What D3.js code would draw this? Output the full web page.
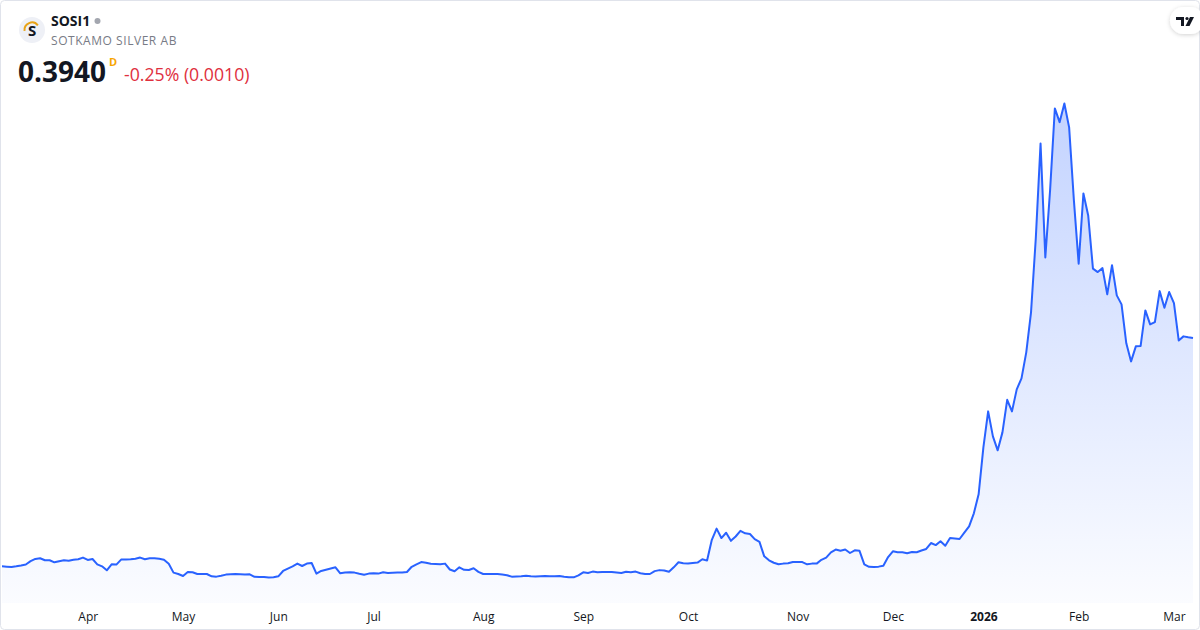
<!DOCTYPE html>
<html><head><meta charset="utf-8">
<script src="https://cdn.jsdelivr.net/npm/d3@7/dist/d3.min.js"></script>
<style>
html,body{margin:0;padding:0;background:#fff;}
svg{display:block;font-family:"Open Sans",sans-serif;}
</style></head>
<body>
<svg id="chart" width="1200" height="630"></svg>
<script>
// ---- data ----
const symbol = "SOSI1";
const companyName = "SOTKAMO SILVER AB";
const lastPrice = "0.3940";
const changeText = "-0.25% (0.0010)";
const tickLabels = ["Apr","May","Jun","Jul","Aug","Sep","Oct","Nov","Dec","2026","Feb","Mar"];
const tickIndex  = [18,38,58,78,101,122,144,167,187,206,226,246];
const prices = [
0.0994,0.0990,0.0985,0.0994,0.1005,0.1018,0.1061,0.1090,0.1098,0.1072,
0.1072,0.1046,0.1059,0.1072,0.1065,0.1078,0.1085,0.1107,0.1076,0.1089,
0.1020,0.0994,0.0943,0.1020,0.1016,0.1081,0.1081,0.1085,0.1091,0.1107,
0.1085,0.1098,0.1098,0.1091,0.1078,0.1027,0.0913,0.0895,0.0869,0.0921,
0.0917,0.0895,0.0895,0.0895,0.0865,0.0861,0.0872,0.0887,0.0891,0.0895,
0.0891,0.0887,0.0891,0.0859,0.0856,0.0855,0.0850,0.0852,0.0865,0.0934,
0.0965,0.0994,0.1029,0.0998,0.1029,0.1037,0.0900,0.0934,0.0949,0.0965,
0.0981,0.0904,0.0913,0.0916,0.0913,0.0898,0.0885,0.0900,0.0904,0.0900,
0.0917,0.0908,0.0910,0.0913,0.0914,0.0921,0.0988,0.1020,0.1049,0.1040,
0.1027,0.1023,0.1020,0.1029,0.0953,0.0930,0.0981,0.0949,0.0947,0.0969,
0.0923,0.0895,0.0895,0.0895,0.0895,0.0887,0.0878,0.0861,0.0863,0.0865,
0.0873,0.0865,0.0863,0.0865,0.0868,0.0867,0.0865,0.0869,0.0859,0.0852,
0.0852,0.0878,0.0917,0.0908,0.0926,0.0919,0.0921,0.0921,0.0921,0.0914,
0.0907,0.0923,0.0919,0.0926,0.0904,0.0895,0.0895,0.0932,0.0945,0.0940,
0.0923,0.0981,0.1046,0.1033,0.1030,0.1037,0.1042,0.1085,0.1068,0.1336,
0.1481,0.1359,0.1427,0.1323,0.1379,0.1452,0.1420,0.1411,0.1345,0.1310,
0.1123,0.1072,0.1040,0.1020,0.1029,0.1033,0.1049,0.1051,0.1049,0.1020,
0.1029,0.1029,0.1078,0.1107,0.1175,0.1211,0.1194,0.1211,0.1166,0.1201,
0.1194,0.1020,0.0988,0.0984,0.0990,0.1001,0.1114,0.1188,0.1175,0.1175,
0.1162,0.1178,0.1175,0.1198,0.1218,0.1295,0.1268,0.1317,0.1259,0.1359,
0.1353,0.1347,0.1429,0.1510,0.1678,0.1923,0.2530,0.2994,0.2672,0.2491,
0.2723,0.3143,0.2994,0.3278,0.3420,0.3756,0.4272,0.5227,0.6452,0.4981,
0.5846,0.6904,0.6727,0.6968,0.6659,0.5717,0.4900,0.5807,0.5523,0.4836,
0.4792,0.4843,0.4504,0.4881,0.4491,0.4375,0.3872,0.3639,0.3833,0.3837,
0.4297,0.4117,0.4146,0.4546,0.4332,0.4534,0.4392,0.3910,0.3962,0.3950,
0.3940
];

// ---- chart ----
const W = 1200, H = 630;
const svg = d3.select("#chart");
const plotBottom = 603;

const x = d3.scaleLinear().domain([0, prices.length - 1]).range([2, 1193]);
const y = d3.scaleLinear().domain([0.05, 0.70]).range([604.6, 101]);

// card border
svg.append("rect").attr("x",0.5).attr("y",0.5).attr("width",W-1).attr("height",H-1)
  .attr("rx",4).attr("fill","#fff").attr("stroke","#e0e3eb");

const defs = svg.append("defs");
const grad = defs.append("linearGradient").attr("id","areaGrad")
  .attr("gradientUnits","userSpaceOnUse").attr("x1",0).attr("x2",0).attr("y1",100).attr("y2",plotBottom);
grad.append("stop").attr("offset","0%").attr("stop-color","#2962ff").attr("stop-opacity",0.28);
grad.append("stop").attr("offset","100%").attr("stop-color","#2962ff").attr("stop-opacity",0.02);
const sh = defs.append("filter").attr("id","sh").attr("x","-50%").attr("y","-50%").attr("width","200%").attr("height","200%");
sh.append("feDropShadow").attr("dx",0).attr("dy",1).attr("stdDeviation",2).attr("flood-color","#000").attr("flood-opacity",0.18);

const area = d3.area().x((d,i)=>x(i)).y0(plotBottom).y1(d=>y(d));
const line = d3.line().x((d,i)=>x(i)).y(d=>y(d));

svg.append("path").datum(prices).attr("d",area).attr("fill","url(#areaGrad)");
svg.append("path").datum(prices).attr("d",line).attr("fill","none")
  .attr("stroke","#2962ff").attr("stroke-width",2).attr("stroke-linejoin","round");

// x axis
const xAxis = d3.axisBottom(x).tickValues(tickIndex).tickFormat((d,i)=>tickLabels[i]).tickSize(0).tickPadding(0);
const gx = svg.append("g").attr("transform",`translate(0,${612})`).call(xAxis);
gx.select(".domain").remove();
gx.selectAll("text").attr("fill","#131722").attr("font-size",12)
  .attr("font-family","'Open Sans',sans-serif")
  .attr("font-weight",(d,i)=>tickLabels[i]==="2026"?"bold":"normal");

// header
const logo = svg.append("g").attr("transform","translate(32,30)");
logo.append("circle").attr("r",13).attr("fill","#eef0f6");
logo.append("path").attr("d",d3.arc()({innerRadius:6.5,outerRadius:8.5,startAngle:-1.7,endAngle:0.9}))
  .attr("fill","#e8a317");
logo.append("text").attr("x",0).attr("y",5.5).attr("text-anchor","middle")
  .attr("font-size",15).attr("font-weight","bold").attr("fill","#131722").text("S");

svg.append("text").attr("x",51).attr("y",26).attr("font-size",14).attr("font-weight","bold")
  .attr("fill","#131722").text(symbol);
svg.append("circle").attr("cx",97.5).attr("cy",21).attr("r",3).attr("fill","#a3a6af");
svg.append("text").attr("x",51).attr("y",45).attr("font-size",12).attr("fill","#787b86")
  .attr("letter-spacing",0.55).text(companyName);
svg.append("text").attr("x",18).attr("y",82).attr("font-size",28).attr("font-weight","bold")
  .attr("fill","#131722").text(lastPrice);
svg.append("text").attr("x",109).attr("y",66).attr("font-size",11).attr("font-weight","bold")
  .attr("fill","#f7a600").text("D");
svg.append("text").attr("x",124).attr("y",81).attr("font-size",17.7)
  .attr("fill","#e0303e").text(changeText);

// TradingView badge
const tv = svg.append("g").attr("transform","translate(1170,7)");
tv.append("rect").attr("width",34).attr("height",27).attr("rx",13.5).attr("fill","#fff").attr("filter","url(#sh)");
tv.append("path").attr("d","M6 10 H14 V19 H11 V13 H6 Z").attr("fill","#131722");
tv.append("circle").attr("cx",17).attr("cy",11.5).attr("r",1.6).attr("fill","#131722");
tv.append("path").attr("d","M20 10 H24 L19.5 19 H15.5 Z").attr("fill","#131722");
</script>
</body></html>
